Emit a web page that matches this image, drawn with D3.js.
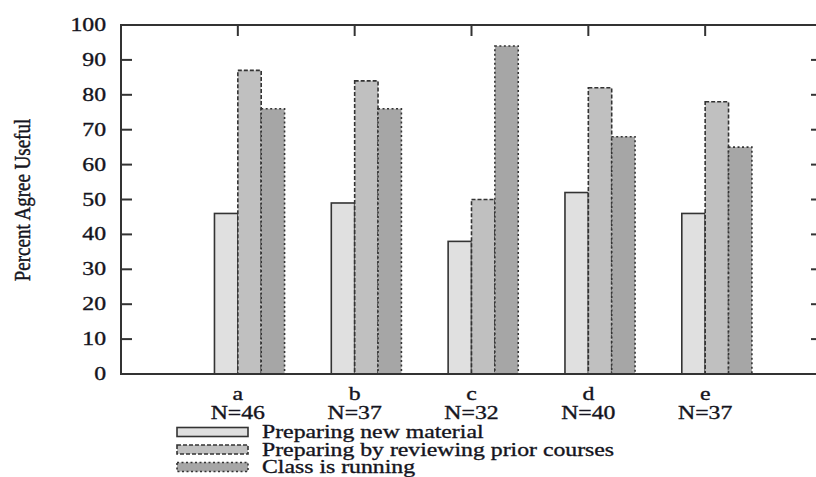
<!DOCTYPE html>
<html>
<head>
<meta charset="utf-8">
<script src="https://cdn.jsdelivr.net/npm/d3@7"></script>
<style>
  html, body { margin: 0; padding: 0; background: #fff; }
  svg { display: block; }
  text { font-family: "Liberation Serif", "Times New Roman", serif; fill: #141420; stroke: #141420; stroke-width: 0.35px; }
</style>
</head>
<body>
<svg id="chart" width="816" height="477"></svg>
<script>
const categories = ["a", "b", "c", "d", "e"];
const sampleSizes = ["N=46", "N=37", "N=32", "N=40", "N=37"];
const seriesNames = ["Preparing new material", "Preparing by reviewing prior courses", "Class is running"];
const newMaterial = [46, 49, 38, 52, 46];
const reviewingPrior = [87, 84, 50, 82, 78];
const classRunning = [76, 76, 94, 68, 65];
const yTicks = [0, 10, 20, 30, 40, 50, 60, 70, 80, 90, 100];

const series = [newMaterial, reviewingPrior, classRunning];
const fills = ["#e0e0e0", "#c0c0c0", "#a6a6a6"];
const dashes = [null, "4,2", "2,2.5"];

const svg = d3.select("#chart");
const L = 121, R = 822, T = 25, B = 374;
const x = d3.scaleLinear().domain([0, 6]).range([L, R]);
const y = d3.scaleLinear().domain([0, 100]).range([B, T]);
const SX = 1.25; // horizontal stretch of the text
const barW = 0.2;

// bars
series.forEach((vals, si) => {
  svg.append("g").selectAll("rect").data(vals).join("rect")
    .attr("x", (d, i) => x(i + 1 + (si - 1) * barW))
    .attr("width", x(barW) - x(0))
    .attr("y", d => y(d))
    .attr("height", d => y(0) - y(d))
    .attr("fill", fills[si])
    .attr("stroke", "#333")
    .attr("stroke-width", 1.6)
    .attr("stroke-dasharray", dashes[si]);
});

// frame
svg.append("rect").attr("x", L).attr("y", T).attr("width", R - L).attr("height", B - T)
  .attr("fill", "none").attr("stroke", "#333").attr("stroke-width", 2);

// y ticks (left and right, inward)
const tickLen = 11;
const gy = svg.append("g");
yTicks.forEach(t => {
  if (t > 0 && t < 100) {
    gy.append("line").attr("x1", L).attr("x2", L + tickLen).attr("y1", y(t)).attr("y2", y(t))
      .attr("stroke", "#333").attr("stroke-width", 2);
    gy.append("line").attr("x1", R).attr("x2", R - tickLen).attr("y1", y(t)).attr("y2", y(t))
      .attr("stroke", "#333").attr("stroke-width", 2);
  }
  gy.append("text")
    .attr("transform", `translate(${L - 15},${y(t) + 6}) scale(${SX},1)`)
    .attr("text-anchor", "end")
    .attr("font-size", 19)
    .text(t);
});

// x ticks top and bottom (inward)
categories.forEach((c, i) => {
  svg.append("line").attr("x1", x(i + 1)).attr("x2", x(i + 1)).attr("y1", T).attr("y2", T + tickLen)
    .attr("stroke", "#333").attr("stroke-width", 2);
  svg.append("text")
    .attr("transform", `translate(${x(i + 1)},400) scale(${SX},1)`)
    .attr("text-anchor", "middle").attr("font-size", 19).text(c);
  svg.append("text")
    .attr("transform", `translate(${x(i + 1)},419) scale(${SX},1)`)
    .attr("text-anchor", "middle").attr("font-size", 19).text(sampleSizes[i]);
});

// y axis label
svg.append("text")
  .attr("transform", `translate(30,200) scale(${SX},1) rotate(-90)`)
  .attr("text-anchor", "middle").attr("font-size", 19)
  .text("Percent Agree Useful");

// legend
seriesNames.forEach((name, si) => {
  const cy = 432 + si * 17.5;
  svg.append("rect").attr("x", 177).attr("y", cy - 4.5).attr("width", 71).attr("height", 9)
    .attr("fill", fills[si]).attr("stroke", "#333").attr("stroke-width", 1.6)
    .attr("stroke-dasharray", dashes[si]);
  svg.append("text")
    .attr("transform", `translate(262,${cy + 6}) scale(${SX},1)`)
    .attr("font-size", 19).text(name);
});
</script>
</body>
</html>
